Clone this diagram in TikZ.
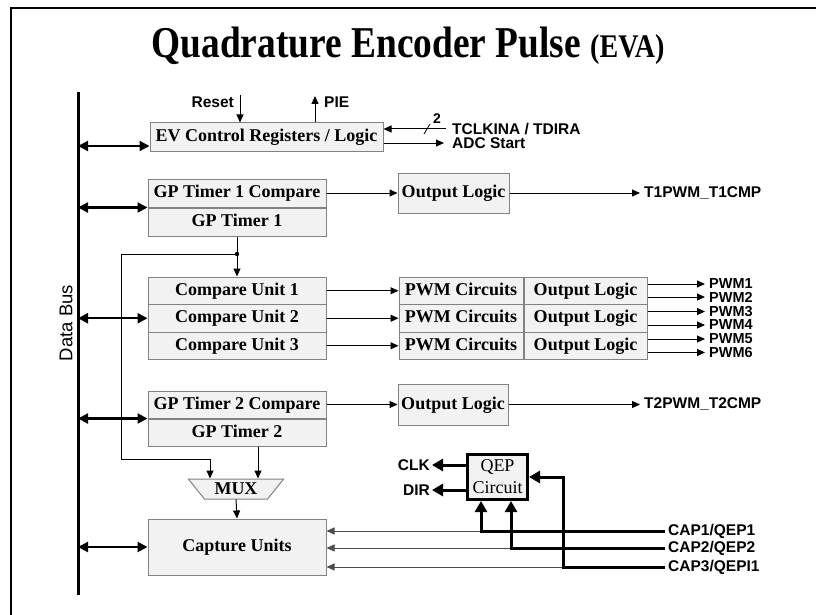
\documentclass[tikz,border=0pt]{standalone}
\usepackage{fontspec}
\setmainfont{Liberation Serif}
\setsansfont{Liberation Sans}
\usetikzlibrary{arrows.meta,shapes.geometric}
\definecolor{boxfill}{RGB}{242,242,242}
\definecolor{boxline}{RGB}{130,130,130}
\newcommand{\boxfont}{\fontsize{18}{20}\selectfont\bfseries}
\newcommand{\lblfont}{\sffamily\bfseries\fontsize{15.5}{16}\selectfont}

\begin{document}
\begin{tikzpicture}[x=1pt, y=-1pt,
    blk/.style={draw=boxline, fill=boxfill, line width=1pt, font=\boxfont, inner sep=0pt,
                text height=12.5pt, text depth=3.5pt},
    lbl/.style={font=\lblfont, inner sep=2pt},
    sig/.style={line width=1pt, -{Triangle[length=8pt,width=7pt]}},
    busarr/.style={line width=2.2pt, {Triangle[length=10pt,width=10pt]}-{Triangle[length=10pt,width=10pt]}},
    fat/.style={line width=3pt, -{Triangle[length=11pt,width=12pt]}}]
  \useasboundingbox (0,0) rectangle (816,615);
  \draw[line width=1.5pt] (11,615) -- (11,8) -- (816,8);

  \node[anchor=base] (title) at (408,58) {\scalebox{0.85}[1]{\fontsize{44}{44}\selectfont\bfseries Quadrature Encoder Pulse {\fontsize{33}{33}\selectfont(EVA)}}};

  % data bus
  \coordinate (busT) at (78,92);
  \coordinate (busB) at (78,595);
  \draw[line width=3pt] (busT) -- (busB);
  \node[font=\sffamily\fontsize{18.5}{19}\selectfont, rotate=90] (buslbl) at (66,323) {Data Bus};

  % event manager control
  \node[blk, minimum width=233pt, minimum height=28pt] (evctl) at (266.5,137) {EV Control Registers / Logic};
  \draw[busarr] (busT |- 0,146) -- ([yshift=-9pt]evctl.west);
  \coordinate (rst) at (240,95);
  \node[lbl, anchor=east] (reset) at (236,102) {Reset};
  \draw[sig] (rst) -- (rst |- evctl.north);
  \coordinate (pie) at (315,96);
  \node[lbl, anchor=west] (pielbl) at (322,102) {PIE};
  \draw[sig] (pie |- evctl.north) -- (pie);
  \node[lbl, anchor=west] (tclk) at (450,129) {TCLKINA / TDIRA};
  \draw[sig] ([xshift=-4pt]tclk.west) -- (tclk.west -| evctl.east);
  \draw[line width=0.8pt] (424,134) -- (430,124);
  \node[lbl, font=\sffamily\bfseries\fontsize{14}{14}\selectfont] (bw) at (437,119) {2};
  \node[lbl, anchor=west] (adc) at (450,143) {ADC Start};
  \draw[sig] (adc.west -| evctl.east) -- ([xshift=-6pt]adc.west);

  % timer 1
  \node[blk, minimum width=178pt, minimum height=28pt] (gpt1c) at (237,193) {GP Timer 1 Compare};
  \node[blk, minimum width=178pt, minimum height=28pt, anchor=north] (gpt1) at (gpt1c.south) {GP Timer 1};
  \draw[busarr] (busT |- gpt1c.south west) -- (gpt1c.south west);
  \node[blk, minimum width=111pt, minimum height=40pt] (ol1) at (453.5,193) {Output Logic};
  \draw[sig] (gpt1c.east) -- (ol1.west);
  \node[lbl, anchor=west] (t1pwm) at (642,193) {T1PWM\_T1CMP};
  \draw[sig] (ol1.east) -- ([xshift=-2pt]t1pwm.west);

  % compare units
  \foreach \i/\y in {1/290.75, 2/318.25, 3/345.75} {
    \node[blk, minimum width=178pt, minimum height=27.5pt] (cmp\i) at (237,\y) {Compare Unit \i};
    \node[blk, minimum width=124pt, minimum height=27.5pt] (pwmc\i) at (461,\y) {PWM Circuits};
    \node[blk, minimum width=123pt, minimum height=27.5pt, anchor=west] (olp\i) at (pwmc\i.east) {Output Logic};
    \draw[sig] (cmp\i.east) -- (pwmc\i.west);
  }
  \draw[busarr] (busT |- cmp2.west) -- (cmp2.west);
  \foreach \n/\i/\y in {1/1/284, 2/1/297, 3/2/311.5, 4/2/325, 5/3/339, 6/3/352.5} {
    \node[lbl, anchor=west, inner sep=0pt, font=\sffamily\bfseries\fontsize{14.5}{14.5}\selectfont] (pwm\n) at (709,\y) {PWM\n};
    \draw[sig] (pwm\n.west -| olp\i.east) -- ([xshift=-4pt]pwm\n.west);
  }

  % timer 2
  \node[blk, minimum width=178pt, minimum height=27pt] (gpt2c) at (237,404.5) {GP Timer 2 Compare};
  \node[blk, minimum width=178pt, minimum height=27pt, anchor=north] (gpt2) at (gpt2c.south) {GP Timer 2};
  \draw[busarr] (busT |- gpt2c.south west) -- (gpt2c.south west);
  \node[blk, minimum width=110pt, minimum height=41pt] (ol2) at (453,404.5) {Output Logic};
  \draw[sig] (gpt2c.east) -- (ol2.west);
  \node[lbl, anchor=west] (t2pwm) at (642,404.5) {T2PWM\_T2CMP};
  \draw[sig] (ol2.east) -- ([xshift=-2pt]t2pwm.west);

  % mux and capture
  \node[blk, trapezium, shape border rotate=180, trapezium stretches=true, trapezium angle=45,
        minimum width=96pt, minimum height=20pt, text height=11pt, text depth=0pt] (mux) at (236,489) {MUX};
  \coordinate (jdot) at (237,254);
  \coordinate (jw) at (121,459);
  \coordinate (jl) at (210,459);
  \draw[sig] (gpt1.south) -- (cmp1.north);
  \fill (jdot) circle (2.2pt);
  \draw[sig] (jdot) -| (jw) -| (jl |- mux.north);
  \draw[sig] ([xshift=21pt]gpt2.south) -- ([xshift=21pt]gpt2.south |- mux.north);
  \node[blk, minimum width=178pt, minimum height=56pt] (capu) at (237,547) {Capture Units};
  \draw[sig] (mux.south) -- (capu.north);
  \draw[busarr] (busT |- capu.west) -- (capu.west);

  % QEP
  \node[draw, line width=3pt, fill=boxfill, minimum width=60pt, minimum height=45pt, align=center,
        font=\fontsize{18}{22}\selectfont, inner sep=0pt] (qep) at (497.5,477) {QEP\\Circuit};
  \node[lbl, anchor=east] (clk) at (432,465) {CLK};
  \node[lbl, anchor=east] (dir) at (432,490) {DIR};
  \draw[fat] (qep.west |- clk) -- (clk.east);
  \draw[fat] (qep.west |- dir) -- (dir.east);
  \foreach \n/\y/\x/\t in {1/531/481/{CAP1/QEP1}, 2/548/511/{CAP2/QEP2}, 3/567/563/{CAP3/QEPI1}} {
    \node[lbl, anchor=west, inner sep=3pt] (capin\n) at (665,\y) {\t};
    \coordinate (cj\n) at (\x,\y);
    \draw[sig, draw=black!70] (cj\n) -- (cj\n -| capu.east);
  }
  \draw[fat] (capin1.west) -- (cj1) -- (cj1 |- qep.south);
  \draw[fat] (capin2.west) -- (cj2) -- (cj2 |- qep.south);
  \draw[fat] (capin3.west) -- (cj3) |- (qep.east);
\end{tikzpicture}
\end{document}
